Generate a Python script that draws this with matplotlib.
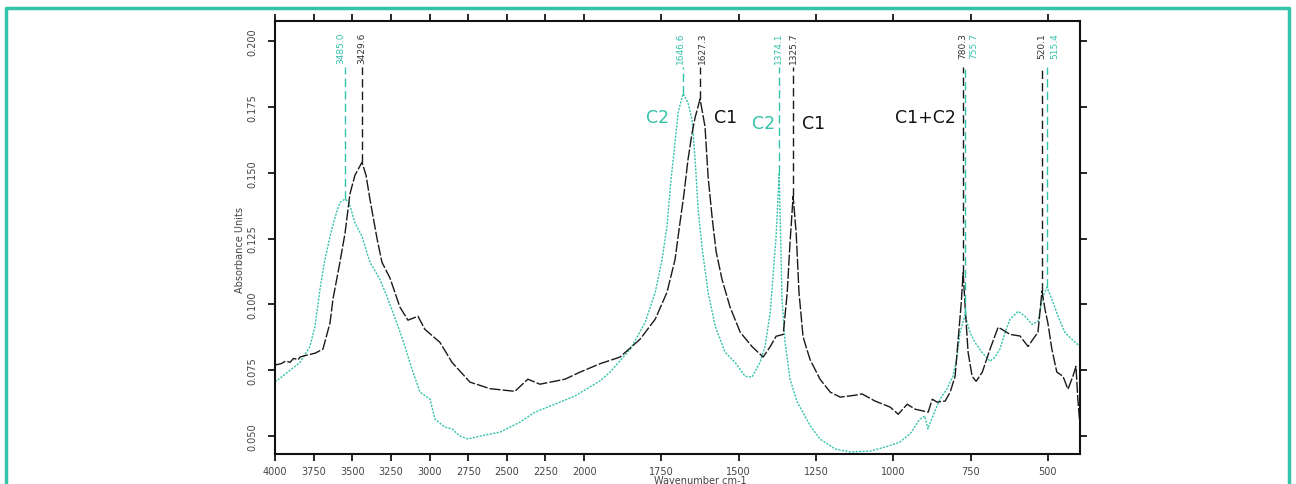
import numpy as np
import matplotlib
matplotlib.use("Agg")
import matplotlib.pyplot as plt
from matplotlib.lines import Line2D

# spectrum C1 (black) - wavenumber / absorbance
c1_wn = [4000, 3960, 3930, 3903, 3880, 3850, 3838, 3810, 3774, 3740, 3690, 3644, 3625,
         3580, 3547, 3515, 3483, 3437, 3411, 3386, 3340, 3308, 3256, 3192, 3140, 3075,
         3030, 2933, 2855, 2739, 2609, 2448, 2364, 2286, 2124, 2026, 1948, 1884, 1819,
         1770, 1732, 1706, 1690, 1677, 1664, 1651, 1641, 1625, 1609, 1599, 1586, 1573,
         1554, 1528, 1495, 1457, 1421, 1398, 1379, 1356, 1343, 1334, 1324, 1314, 1305,
         1292, 1285, 1269, 1237, 1204, 1172, 1124, 1101, 1059, 1010, 984, 955, 929, 887,
         874, 858, 832, 816, 800, 790, 780, 774, 767, 758, 745, 732, 712, 687, 661, 648,
         622, 590, 564, 548, 532, 519, 509, 500, 487, 471, 451, 435, 419, 409, 403, 396]
c1_abs = [0.077, 0.0775, 0.0785, 0.078, 0.0795, 0.079, 0.080, 0.0805, 0.081, 0.0815,
          0.083, 0.093, 0.102, 0.116, 0.127, 0.142, 0.149, 0.154, 0.149, 0.140, 0.125,
          0.116, 0.110, 0.099, 0.094, 0.0955, 0.0905, 0.0856, 0.078, 0.0705, 0.068, 0.067,
          0.0716, 0.0697, 0.0716, 0.0743, 0.0775, 0.080, 0.0868, 0.0944, 0.1046, 0.117,
          0.131, 0.142, 0.155, 0.165, 0.171, 0.178, 0.1675, 0.1485, 0.133, 0.120, 0.1095,
          0.099, 0.0894, 0.084, 0.080, 0.084, 0.0879, 0.0886, 0.1046, 0.1235, 0.141, 0.127,
          0.1046, 0.0879, 0.085, 0.079, 0.0716, 0.0667, 0.0648, 0.0655, 0.066, 0.0633,
          0.061, 0.0583, 0.0621, 0.0602, 0.0591, 0.064, 0.0629, 0.0633, 0.0667, 0.0727,
          0.0868, 0.1008, 0.112, 0.098, 0.0818, 0.0727, 0.0708, 0.0743, 0.083, 0.0913,
          0.0905, 0.0886, 0.088, 0.084, 0.0868, 0.0894, 0.105, 0.098, 0.093, 0.083, 0.0743,
          0.0727, 0.0678, 0.0727, 0.0765, 0.064, 0.054]

# spectrum C2 (teal)
c2_wn = [4000, 3838, 3774, 3741, 3709, 3677, 3644, 3612, 3580, 3547, 3521, 3483, 3437,
         3386, 3321, 3269, 3204, 3159, 3114, 3062, 2997, 2965, 2900, 2855, 2803, 2752,
         2674, 2545, 2415, 2318, 2189, 2060, 1948, 1916, 1851, 1803, 1770, 1748, 1732,
         1719, 1706, 1696, 1680, 1664, 1651, 1641, 1631, 1618, 1599, 1576, 1544, 1512,
         1479, 1457, 1431, 1415, 1398, 1389, 1379, 1369, 1360, 1350, 1334, 1311, 1269,
         1237, 1188, 1140, 1075, 1027, 979, 946, 914, 898, 888, 872, 849, 827, 807, 794,
         784, 768, 752, 736, 713, 687, 671, 655, 638, 622, 596, 574, 551, 532, 516, 503,
         487, 467, 445, 423, 396]
c2_abs = [0.0705, 0.078, 0.084, 0.0917, 0.1057, 0.117, 0.1258, 0.133, 0.1387, 0.140,
          0.1387, 0.131, 0.1258, 0.116, 0.1095, 0.102, 0.0917, 0.084, 0.0754, 0.0667,
          0.064, 0.0564, 0.0534, 0.0527, 0.050, 0.0489, 0.050, 0.0515, 0.0553, 0.0591,
          0.0621, 0.0652, 0.071, 0.0743, 0.083, 0.093, 0.1046, 0.117, 0.1296, 0.1474,
          0.1614, 0.1728, 0.180, 0.1766, 0.170, 0.155, 0.136, 0.121, 0.1046, 0.0917,
          0.0818, 0.078, 0.0727, 0.0724, 0.078, 0.084, 0.097, 0.1106, 0.1258, 0.150, 0.102,
          0.0856, 0.0716, 0.063, 0.054, 0.0489, 0.0451, 0.044, 0.0443, 0.0458, 0.0477,
          0.0508, 0.0564, 0.0576, 0.0527, 0.0576, 0.064, 0.0678, 0.0727, 0.080, 0.0894,
          0.096, 0.0894, 0.0856, 0.0818, 0.0784, 0.080, 0.083, 0.0894, 0.0944, 0.0974,
          0.0955, 0.0924, 0.0936, 0.103, 0.1065, 0.102, 0.0955, 0.0894, 0.0868, 0.084]

# peak picks: position, peak top, label and where the label sits
c1_peaks = [3437, 1625, 1324, 774, 519]
c1_peak_top = [0.154, 0.178, 0.141, 0.112, 0.105]
c1_peak_labels = ["3429.6", "1627.3", "1325.7", "780.3", "520.1"]
c1_label_x = [3437, 1617, 1324, 774, 519]
c2_peaks = [3547, 1680, 1369, 768, 503]
c2_peak_top = [0.140, 0.180, 0.150, 0.096, 0.1065]
c2_peak_labels = ["3485.0", "1646.6", "1374.1", "755.7", "515.4"]
c2_label_x = [3575, 1690, 1372, 740, 477]

x_ticks = [4000, 3750, 3500, 3250, 3000, 2750, 2500, 2250, 2000, 1750, 1500, 1250, 1000, 750, 500]
y_ticks = [0.050, 0.075, 0.100, 0.125, 0.150, 0.175, 0.200]

teal = "#33c2ab"


# above 2000 cm-1 the scale is compressed by half
def fwd(x):
    x = np.asarray(x, dtype=float)
    return np.where(x > 2000, 2000 + (x - 2000) / 2.0, x)


def inv(t):
    t = np.asarray(t, dtype=float)
    return np.where(t > 2000, 2000 + (t - 2000) * 2.0, t)


fig = plt.figure(figsize=(12.96, 4.85), dpi=100)
ax = fig.add_axes([275 / 1296, 1 - 455 / 485, 805 / 1296, 433 / 485])
ax.set_xscale("function", functions=(fwd, inv))
ax.set_xlim(4000, 396)
ax.set_ylim(0.0432, 0.2076)

ax.plot(c2_wn, c2_abs, color=teal, lw=1.0, ls=(0, (1.5, 1)))
ax.plot(c1_wn, c1_abs, color="#1a1a1a", lw=1.0, ls=(0, (8, 1.5)))

# peak marker lines + labels
for wn, top in zip(c1_peaks, c1_peak_top):
    ax.vlines(wn, top, 0.190, color="#1a1a1a", lw=1.0, ls=(0, (6, 3)))
for lx, lab in zip(c1_label_x, c1_peak_labels):
    ax.text(lx, 0.2035, lab, rotation=90, ha="center", va="top", fontsize=6.5, color="#333333")
for wn, top in zip(c2_peaks, c2_peak_top):
    ax.vlines(wn, top, 0.190, color=teal, lw=1.0, ls=(0, (6, 3)))
for lx, lab in zip(c2_label_x, c2_peak_labels):
    ax.text(lx, 0.2035, lab, rotation=90, ha="center", va="top", fontsize=6.5, color=teal)

# sample annotations
ax.text(1764, 0.171, "C2", color=teal, fontsize=12.5, ha="center", va="center")
ax.text(1544, 0.171, "C1", color="#111111", fontsize=12.5, ha="center", va="center")
ax.text(1421, 0.169, "C2", color=teal, fontsize=12.5, ha="center", va="center")
ax.text(1259, 0.169, "C1", color="#111111", fontsize=12.5, ha="center", va="center")
ax.text(897, 0.171, "C1+C2", color="#111111", fontsize=12.5, ha="center", va="center")

ax.set_xticks(x_ticks)
ax.set_xticklabels([str(v) for v in x_ticks])
ax.set_xticks([], minor=True)
ax.set_yticks(y_ticks)
ax.set_yticklabels(["%.3f" % v for v in y_ticks], rotation=90, va="center")
ax.tick_params(axis="both", direction="out", length=5, width=1.2, labelsize=7,
               labelcolor="#444444", top=True, right=True)
ax.tick_params(axis="y", pad=8)
for s in ax.spines.values():
    s.set_linewidth(1.5)
    s.set_color("#111111")

fig.text(240 / 1296, 1 - 250 / 485, "Absorbance Units", rotation=90, ha="center", va="center",
         fontsize=7, color="#444444")
fig.text(700 / 1296, 0.008, "Wavenumber cm-1", ha="center", va="center", fontsize=7, color="#444444")

# teal frame round the figure (bottom edge is cut off)
fx = [6 / 1296, 6 / 1296, 1289 / 1296, 1289 / 1296]
fy = [-0.05, 1 - 9 / 485, 1 - 9 / 485, -0.05]
fig.add_artist(Line2D(fx, fy, transform=fig.transFigure, color=teal, lw=2.5))

fig.savefig("out.png", dpi=100)
